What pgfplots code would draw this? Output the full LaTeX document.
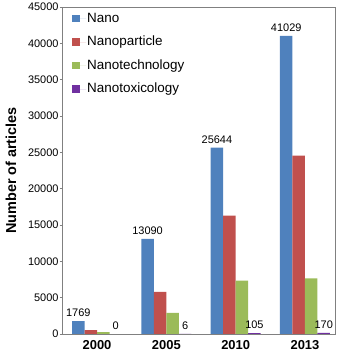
\documentclass[border=0pt]{standalone}
\usepackage{pgfplots}
\pgfplotsset{compat=1.18}
\usepackage{fontspec}
\setmainfont{Liberation Sans}
\definecolor{cNano}{RGB}{79,129,189}
\definecolor{cPart}{RGB}{192,80,77}
\definecolor{cTech}{RGB}{155,187,89}
\definecolor{cTox}{RGB}{112,48,160}
\begin{document}
\begin{tikzpicture}[x=1bp,y=1bp]
\begin{axis}[
  at={(0,0)}, anchor=south west,
  scale only axis,
  width=272.3bp, height=327bp,
  ybar=0pt, bar width=12.5bp,
  xmin=-0.495, xmax=3.433,
  ymin=0, ymax=45000,
  xtick={0,1,2,3},
  xticklabels={2000,2005,2010,2013},
  x tick label style={font=\fontsize{13}{13}\selectfont\bfseries, inner sep=0pt, yshift=-3bp},
  major x tick style={draw=none},
  ytick={0,5000,...,45000},
  y tick label style={font=\fontsize{11}{11}\selectfont, inner sep=0pt, xshift=-1bp},
  /pgf/number format/assume math mode=true,
  scaled y ticks=false,
  yticklabel style={/pgf/number format/fixed, /pgf/number format/1000 sep={}},
  tick align=outside,
  ytick pos=left,
  major tick length=3bp,
  axis line style={draw=black!50, line width=0.8pt},
  every tick/.style={black!50, line width=0.8pt},
  ylabel={Number of articles},
  ylabel style={font=\fontsize{14.5}{14.5}\selectfont\bfseries, at={(axis description cs:-0.19,0.5)}, anchor=center},
  legend style={at={(axis description cs:0,1)}, anchor=north west, xshift=9.3bp, yshift=-4bp,
    draw=none, fill=none, inner sep=0pt,
    font=\fontsize{13.5}{13.5}\selectfont, row sep=8.5bp,
    nodes={inner sep=1bp, text height=10bp, text depth=3bp}},
  legend cell align=left,
  legend image code/.code={\fill[#1] (0bp,-3.75bp) rectangle (7.5bp,3.75bp); \path (0bp,0bp) -- (14bp,0bp);},
  every node near coord/.append style={font=\fontsize{11}{11}\selectfont, black, yshift=1bp},
]
\addplot[fill=cNano, draw=none, nodes near coords, point meta=explicit symbolic]
  coordinates {(0,1769)[1769] (1,13090)[13090] (2,25644)[25644] (3,41029)[41029]};
\addplot[fill=cPart, draw=none] coordinates {(0,520) (1,5800) (2,16300) (3,24550)};
\addplot[fill=cTech, draw=none] coordinates {(0,250) (1,2900) (2,7350) (3,7650)};
\addplot[fill=cTox, draw=none, nodes near coords, point meta=explicit symbolic]
  coordinates {(0,0)[0] (1,6)[6] (2,105)[105] (3,170)[170]};
\legend{Nano,Nanoparticle,Nanotechnology,Nanotoxicology}
\end{axis}
\pgfresetboundingbox
\path[use as bounding box] (-62.7bp,-20bp) rectangle (279.3bp,334bp);
\end{tikzpicture}
\end{document}
